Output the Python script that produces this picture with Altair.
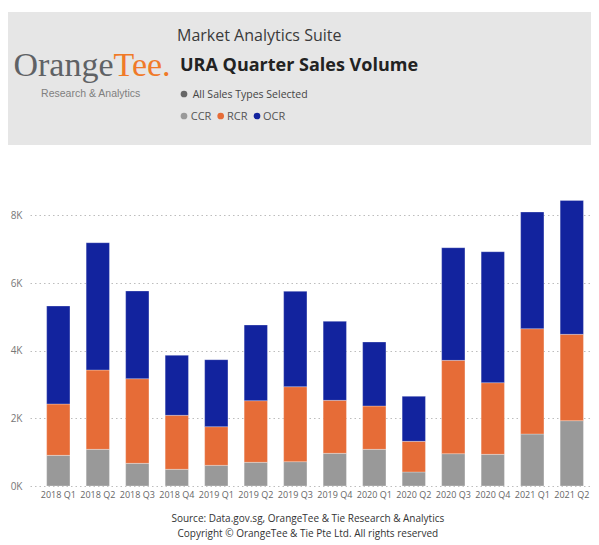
import altair as alt
import pandas as pd

# ---- data ----
quarters = ["2018 Q1", "2018 Q2", "2018 Q3", "2018 Q4",
            "2019 Q1", "2019 Q2", "2019 Q3", "2019 Q4",
            "2020 Q1", "2020 Q2", "2020 Q3", "2020 Q4",
            "2021 Q1", "2021 Q2"]
ccr = [906, 1084, 670, 493, 611, 700, 719, 966, 1084, 414, 956, 936, 1537, 1931]
rcr = [1518, 2345, 2502, 1596, 1143, 1822, 2217, 1566, 1281, 906, 2758, 2118, 3113, 2552]
ocr = [2896, 3763, 2592, 1773, 1980, 2237, 2818, 2335, 1891, 1330, 3330, 3872, 3449, 3960]
series = ["CCR", "RCR", "OCR"]
colors = ["#999999", "#E66C37", "#12239E"]
y_ticks = [0, 2000, 4000, 6000, 8000]

rows = []
for i, q in enumerate(quarters):
    for k, (name, vals) in enumerate(zip(series, [ccr, rcr, ocr])):
        rows.append({"quarter": q, "type": name, "value": vals[i], "order": k})
df = pd.DataFrame(rows)

FONT = "Open Sans"
W, H = 561, 296   # plot area (page x 30..591, y 190..486)

bars = alt.Chart(df).mark_bar(
    stroke="#ffffff", strokeWidth=0.7, strokeOpacity=0.4
).encode(
    x=alt.X("quarter:N", sort=quarters,
            scale=alt.Scale(paddingInner=0.41, paddingOuter=0.3065, align=0.688),
            axis=alt.Axis(title=None, labelAngle=0, ticks=False, domain=False,
                          labelPadding=4, labelFontSize=9, labelColor="#666666",
                          labelFont=FONT, labelOverlap=False)),
    y=alt.Y("value:Q", stack="zero",
            scale=alt.Scale(domain=[0, 8750], nice=False),
            axis=alt.Axis(title=None, values=y_ticks,
                          labelExpr="datum.value / 1000 + 'K'",
                          ticks=False, domain=False, grid=True,
                          gridDash=[1.5, 3], gridColor="#bdbdbd", gridWidth=1,
                          labelPadding=8, labelFontSize=10, labelColor="#777777",
                          labelFont=FONT)),
    color=alt.Color("type:N", scale=alt.Scale(domain=series, range=colors), legend=None),
    order=alt.Order("order:Q", sort="ascending"),
    tooltip=["quarter:N", "type:N", "value:Q"],
)

one = pd.DataFrame({"k": [0]})


def txt(text, x, y, **kw):
    return alt.Chart(one).mark_text(text=text, **kw).encode(
        x=alt.value(x), y=alt.value(y))


# header background (page x 8..591, y 12..145); chart origin at page (30,190)
header_bg = alt.Chart(one).mark_rect(color="#e6e6e6").encode(
    x=alt.value(-22), x2=alt.value(W), y=alt.value(-178), y2=alt.value(-45))

logo1 = txt("Orange", 83.5, -114.5, align="right", baseline="alphabetic",
            font="Liberation Serif", fontSize=34, color="#5f6265")
logo2 = txt("Tee.", 83.5, -114.5, align="left", baseline="alphabetic",
            font="Liberation Serif", fontSize=34, color="#F07A28")
logo3 = txt("Research & Analytics", 60.7, -92.7, align="center", baseline="alphabetic",
            font="Liberation Sans", fontSize=10.5, color="#7f7f7f")

suite = txt("Market Analytics Suite", 147, -148.6, align="left", baseline="alphabetic",
            font=FONT, fontSize=16, color="#3a3a3a")
title = txt("URA Quarter Sales Volume", 150, -119.3, align="left", baseline="alphabetic",
            font=FONT, fontSize=18, fontWeight="bold", color="#222222")

all_dot = alt.Chart(one).mark_point(filled=True, shape="circle", size=45,
                                    color="#666666", opacity=1).encode(
    x=alt.value(154), y=alt.value(-96))
all_txt = txt("All Sales Types Selected", 162.7, -91.7, align="left", baseline="alphabetic",
              font=FONT, fontSize=10.5, color="#444444")

legend_layers = []
dot_x = [154, 190.7, 227]
txt_x = [160.7, 197, 233]
for name, c, dx, tx in zip(series, colors, dot_x, txt_x):
    legend_layers.append(
        alt.Chart(one).mark_point(filled=True, shape="circle", size=45,
                                  color=c, opacity=1).encode(
            x=alt.value(dx), y=alt.value(-74)))
    legend_layers.append(
        txt(name, tx, -70, align="left", baseline="alphabetic",
            font=FONT, fontSize=11, color="#555555"))

foot1 = txt("Source: Data.gov.sg, OrangeTee & Tie Research & Analytics", 277.8, 332,
            align="center", baseline="alphabetic", font=FONT, fontSize=10, color="#333333")
foot2 = txt("Copyright © OrangeTee & Tie Pte Ltd. All rights reserved", 277.8, 346.5,
            align="center", baseline="alphabetic", font=FONT, fontSize=10, color="#333333")

chart = alt.layer(
    header_bg, logo1, logo2, logo3, suite, title, all_dot, all_txt,
    *legend_layers, bars, foot1, foot2
).properties(
    width=W, height=H,
    padding={"left": 22, "top": 182, "right": 0, "bottom": 58},
    autosize=alt.AutoSizeParams(type="none"),
    background="#ffffff",
).configure(font=FONT).configure_view(strokeWidth=0)

chart.save("out.html", embed_options={"renderer": "svg", "actions": False})
